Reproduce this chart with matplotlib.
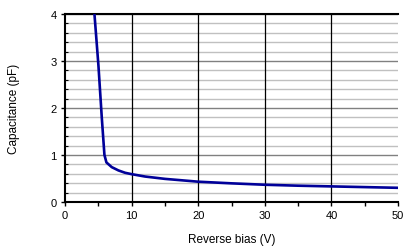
import matplotlib.pyplot as plt
from matplotlib.ticker import MultipleLocator

plt.rcParams['font.family'] = ['Liberation Sans', 'DejaVu Sans']

# reverse bias (V) and capacitance (pF)
bias = [4.4, 5.0, 5.5, 5.9, 6.2, 7.0, 8.0, 9.0, 10, 12, 15, 20, 25, 30, 35, 40, 45, 50]
cap = [4.0, 2.9, 1.8, 1.0, 0.84, 0.74, 0.67, 0.62, 0.59, 0.54, 0.49, 0.43, 0.395, 0.365, 0.345, 0.33, 0.315, 0.30]
xgrid = [10, 20, 30, 40]

fig = plt.figure(figsize=(4.15, 2.53), dpi=100)
ax = fig.add_axes([0.157, 0.198, 0.802, 0.743])

ax.plot(bias, cap, color='#000099', lw=1.9, zorder=3)

ax.set_xlim(0, 50)
ax.set_ylim(0, 4)
ax.xaxis.set_major_locator(MultipleLocator(10))
ax.xaxis.set_minor_locator(MultipleLocator(5))
ax.yaxis.set_major_locator(MultipleLocator(1))
ax.yaxis.set_minor_locator(MultipleLocator(0.2))

ax.grid(which='minor', axis='y', color='#c0c0c0', lw=1.0)
ax.grid(which='major', axis='y', color='#808080', lw=1.0)
ax.set_axisbelow(True)
for v in xgrid:
    ax.axvline(v, color='black', lw=0.9, zorder=1)

ax.spines['right'].set_visible(False)
for s in ['top', 'left', 'bottom']:
    ax.spines[s].set_linewidth(1.5)

ax.tick_params(which='major', direction='out', length=3, width=1, labelsize=8, pad=3)
ax.tick_params(axis='y', which='minor', direction='in', length=2, width=0.8)
ax.tick_params(axis='x', which='minor', direction='out', length=3, width=1)

ax.set_xlabel('Reverse bias (V)', fontsize=8.5, labelpad=9)
ax.set_ylabel('Capacitance (pF)', fontsize=8.5, labelpad=22)

plt.savefig('out.png', dpi=100)
